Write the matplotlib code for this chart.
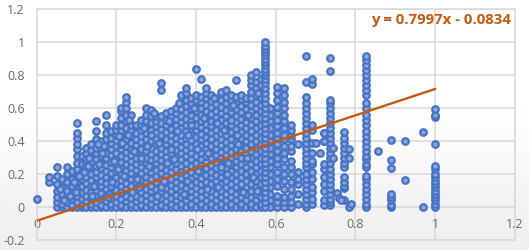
import numpy as np
import matplotlib
matplotlib.use("Agg")
import matplotlib.pyplot as plt

plt.rcParams['font.family'] = ['Open Sans', 'DejaVu Sans']

# dense part, one list of y per x position
dense_x = [0.05, 0.0625, 0.075, 0.0875, 0.10, 0.1125, 0.125, 0.1375, 0.15, 0.1625,
           0.175, 0.1875, 0.20, 0.2125, 0.225, 0.2375, 0.25, 0.2625, 0.275, 0.2875,
           0.30, 0.3125, 0.325, 0.3375, 0.35, 0.3625, 0.375, 0.3875, 0.40, 0.4125,
           0.425, 0.4375, 0.45, 0.4625, 0.475, 0.4875, 0.50, 0.5125, 0.525, 0.5375,
           0.55, 0.5625]
dense_y = [
    [0, 0.03, 0.06, 0.10, 0.14, 0.19, 0.24],
    [0, 0.02, 0.05, 0.08, 0.12, 0.17],
    [0, 0.03, 0.065, 0.10, 0.15, 0.20, 0.24],
    [0, 0.015, 0.05, 0.085, 0.13, 0.17, 0.22],
    [0, 0.03, 0.07, 0.11, 0.15, 0.19, 0.23, 0.27, 0.31, 0.35, 0.38, 0.42, 0.45, 0.51],
    [0, 0.015, 0.05, 0.09, 0.125, 0.17, 0.21, 0.26, 0.31],
    [0, 0.035, 0.07, 0.105, 0.145, 0.18, 0.22, 0.255, 0.29, 0.33, 0.36],
    [0, 0.02, 0.055, 0.09, 0.13, 0.165, 0.20, 0.24, 0.275, 0.31, 0.345, 0.38],
    [0, 0.03, 0.07, 0.105, 0.14, 0.18, 0.215, 0.25, 0.29, 0.325, 0.36, 0.41, 0.46, 0.52],
    [0, 0.015, 0.05, 0.085, 0.125, 0.16, 0.195, 0.235, 0.27, 0.31, 0.345, 0.40],
    [0, 0.035, 0.07, 0.11, 0.145, 0.18, 0.22, 0.255, 0.295, 0.33, 0.37, 0.41, 0.45, 0.50, 0.56],
    [0, 0.02, 0.055, 0.09, 0.13, 0.165, 0.205, 0.24, 0.275, 0.315, 0.35, 0.39, 0.42, 0.46],
    [0, 0.03, 0.07, 0.105, 0.145, 0.18, 0.22, 0.26, 0.295, 0.33, 0.37, 0.405, 0.44, 0.47, 0.50],
    [0, 0.015, 0.05, 0.09, 0.125, 0.165, 0.20, 0.24, 0.275, 0.31, 0.35, 0.385, 0.42, 0.46, 0.50, 0.54, 0.58, 0.60],
    [0, 0.035, 0.07, 0.11, 0.145, 0.185, 0.22, 0.26, 0.295, 0.335, 0.37, 0.41, 0.445, 0.48, 0.52, 0.56, 0.60, 0.64, 0.67],
    [0, 0.02, 0.055, 0.09, 0.13, 0.17, 0.205, 0.24, 0.28, 0.315, 0.355, 0.39, 0.43, 0.465, 0.50, 0.56],
    [0, 0.035, 0.07, 0.11, 0.15, 0.185, 0.225, 0.26, 0.30, 0.335, 0.375, 0.41, 0.45, 0.50],
    [0, 0.015, 0.05, 0.09, 0.13, 0.165, 0.205, 0.24, 0.28, 0.32, 0.355, 0.395, 0.43, 0.47, 0.50, 0.53],
    [0, 0.035, 0.075, 0.11, 0.15, 0.185, 0.225, 0.265, 0.30, 0.34, 0.375, 0.415, 0.45, 0.49, 0.52, 0.56, 0.60],
    [0, 0.02, 0.055, 0.095, 0.13, 0.17, 0.21, 0.245, 0.285, 0.32, 0.36, 0.40, 0.435, 0.47, 0.51, 0.55, 0.59],
    [0, 0.035, 0.075, 0.11, 0.15, 0.19, 0.225, 0.265, 0.30, 0.34, 0.38, 0.415, 0.455, 0.49, 0.52, 0.55],
    [0, 0.015, 0.055, 0.095, 0.13, 0.17, 0.205, 0.245, 0.285, 0.32, 0.36, 0.395, 0.435, 0.475, 0.51, 0.55, 0.71, 0.75],
    [0, 0.035, 0.075, 0.115, 0.15, 0.19, 0.225, 0.265, 0.305, 0.34, 0.38, 0.415, 0.455, 0.495, 0.53, 0.57],
    [0, 0.02, 0.055, 0.095, 0.135, 0.17, 0.21, 0.25, 0.285, 0.325, 0.36, 0.40, 0.44, 0.475, 0.515, 0.55, 0.58],
    [0, 0.04, 0.075, 0.115, 0.155, 0.19, 0.23, 0.265, 0.305, 0.345, 0.38, 0.42, 0.46, 0.495, 0.535, 0.57, 0.60],
    [0, 0.02, 0.06, 0.095, 0.135, 0.175, 0.21, 0.25, 0.29, 0.325, 0.365, 0.405, 0.44, 0.48, 0.515, 0.555, 0.595, 0.64, 0.68],
    [0, 0.04, 0.075, 0.115, 0.155, 0.195, 0.23, 0.27, 0.31, 0.345, 0.385, 0.42, 0.46, 0.50, 0.535, 0.575, 0.615, 0.65, 0.69, 0.72],
    [0, 0.02, 0.06, 0.10, 0.135, 0.175, 0.215, 0.25, 0.29, 0.33, 0.365, 0.405, 0.445, 0.48, 0.52, 0.56, 0.595, 0.63, 0.66],
    [0, 0.04, 0.08, 0.115, 0.155, 0.195, 0.235, 0.27, 0.31, 0.35, 0.385, 0.425, 0.465, 0.50, 0.54, 0.58, 0.615, 0.65, 0.68, 0.84],
    [0, 0.02, 0.06, 0.10, 0.14, 0.175, 0.215, 0.255, 0.29, 0.33, 0.37, 0.41, 0.445, 0.485, 0.525, 0.56, 0.60, 0.64, 0.67, 0.78],
    [0, 0.04, 0.08, 0.12, 0.155, 0.195, 0.235, 0.275, 0.31, 0.35, 0.39, 0.425, 0.465, 0.505, 0.545, 0.58, 0.62, 0.66, 0.69, 0.72],
    [0, 0.02, 0.06, 0.10, 0.14, 0.18, 0.215, 0.255, 0.295, 0.335, 0.37, 0.41, 0.45, 0.49, 0.525, 0.565, 0.605, 0.645, 0.68],
    [0, 0.04, 0.08, 0.12, 0.16, 0.195, 0.235, 0.275, 0.315, 0.35, 0.39, 0.43, 0.47, 0.51, 0.545, 0.585, 0.625, 0.66],
    [0, 0.02, 0.06, 0.10, 0.14, 0.18, 0.22, 0.255, 0.295, 0.335, 0.375, 0.415, 0.45, 0.49, 0.53, 0.57, 0.61, 0.65, 0.70],
    [0, 0.04, 0.08, 0.12, 0.16, 0.20, 0.235, 0.275, 0.315, 0.355, 0.395, 0.435, 0.47, 0.51, 0.55, 0.59, 0.63, 0.67, 0.71],
    [0, 0.02, 0.06, 0.10, 0.14, 0.18, 0.22, 0.26, 0.30, 0.335, 0.375, 0.415, 0.455, 0.495, 0.535, 0.575, 0.61, 0.65, 0.68],
    [0, 0.04, 0.08, 0.12, 0.16, 0.20, 0.24, 0.28, 0.315, 0.355, 0.395, 0.435, 0.475, 0.515, 0.555, 0.595, 0.635, 0.67, 0.77],
    [0, 0.02, 0.06, 0.10, 0.14, 0.18, 0.22, 0.26, 0.30, 0.34, 0.375, 0.415, 0.455, 0.495, 0.535, 0.575, 0.615, 0.655, 0.68],
    [0, 0.04, 0.08, 0.12, 0.16, 0.20, 0.24, 0.28, 0.32, 0.36, 0.40, 0.44, 0.48, 0.515, 0.555, 0.595, 0.635, 0.66],
    [0, 0.02, 0.06, 0.10, 0.14, 0.18, 0.22, 0.26, 0.30, 0.34, 0.38, 0.42, 0.46, 0.50, 0.54, 0.58, 0.62, 0.66, 0.70, 0.74, 0.77, 0.80],
    [0, 0.04, 0.08, 0.12, 0.16, 0.20, 0.24, 0.28, 0.32, 0.36, 0.40, 0.44, 0.48, 0.52, 0.56, 0.60, 0.64, 0.68, 0.72, 0.76, 0.82],
    [0, 0.02, 0.06, 0.10, 0.14, 0.18, 0.22, 0.26, 0.30, 0.34, 0.38, 0.42, 0.46, 0.50, 0.54, 0.58, 0.62, 0.66, 0.70, 0.74, 0.78],
]

# the tall column near 0.57
tall_x = 0.572
tall_y = [0, 0.03, 0.06, 0.09, 0.12, 0.15, 0.18, 0.21, 0.24, 0.27, 0.30, 0.33, 0.36, 0.39, 0.42,
          0.45, 0.48, 0.51, 0.54, 0.57, 0.60, 0.63, 0.66, 0.69, 0.72, 0.75, 0.78, 0.80, 0.82,
          0.84, 0.86, 0.88, 0.90, 0.92, 0.94, 0.96, 0.98, 1.0]

# sparser columns on the right
right_x = [0.585, 0.603, 0.62, 0.639, 0.655, 0.675, 0.692, 0.72, 0.736, 0.772, 0.826, 0.889, 1.0]
right_y = [
    [0, 0.04, 0.08, 0.12, 0.16, 0.20, 0.24, 0.28, 0.32, 0.36, 0.40, 0.44, 0.48, 0.52, 0.56, 0.60],
    [0, 0.03, 0.07, 0.13, 0.17, 0.21, 0.26, 0.30, 0.34, 0.38, 0.42, 0.45, 0.49, 0.53, 0.57, 0.61, 0.65, 0.69, 0.73],
    [0, 0.03, 0.06, 0.11, 0.16, 0.20, 0.24, 0.29, 0.33, 0.37, 0.41, 0.44, 0.48, 0.52, 0.56, 0.60, 0.64, 0.68, 0.72],
    [0, 0.03, 0.07, 0.11, 0.15, 0.20, 0.24, 0.28, 0.34, 0.37, 0.41, 0.44, 0.47, 0.50],
    [0.02, 0.08, 0.14, 0.17, 0.21, 0.38],
    [0, 0.02, 0.05, 0.08, 0.11, 0.14, 0.17, 0.20, 0.24, 0.27, 0.30, 0.33, 0.36, 0.39, 0.42, 0.45,
     0.48, 0.51, 0.54, 0.57, 0.60, 0.63, 0.67, 0.76, 0.915],
    [0.02, 0.05, 0.09, 0.12, 0.17, 0.21, 0.26, 0.28, 0.33, 0.39, 0.47, 0.50, 0.745, 0.775],
    [0.01, 0.04, 0.10, 0.14, 0.18, 0.23, 0.26, 0.40, 0.45],
    [0.01, 0.03, 0.05, 0.08, 0.11, 0.14, 0.17, 0.20, 0.23, 0.27, 0.30, 0.33, 0.36, 0.39, 0.42,
     0.45, 0.48, 0.51, 0.54, 0.57, 0.60, 0.63, 0.65, 0.825, 0.905],
    [0.04, 0.115, 0.13, 0.15, 0.18, 0.245, 0.27, 0.30, 0.33, 0.36, 0.39, 0.42, 0.455],
    [0, 0.02, 0.05, 0.08, 0.11, 0.14, 0.17, 0.19, 0.24, 0.26, 0.29, 0.31, 0.34, 0.37, 0.40, 0.43,
     0.46, 0.50, 0.53, 0.56, 0.60, 0.63, 0.68, 0.71, 0.74, 0.77, 0.80, 0.83, 0.86, 0.89, 0.915],
    [0, 0.015, 0.04, 0.06, 0.08, 0.235, 0.285, 0.405],
    [0, 0.02, 0.04, 0.06, 0.08, 0.10, 0.12, 0.14, 0.16, 0.18, 0.20, 0.23, 0.25, 0.38, 0.545, 0.56, 0.595],
]

# single points
single_x = [0.0, 0.03, 0.03, 0.70, 0.71, 0.72, 0.72, 0.745, 0.745, 0.755, 0.76, 0.765, 0.785, 0.785,
            0.785, 0.79, 0.858, 0.925, 0.925, 0.97, 0.97]
single_y = [0.05, 0.15, 0.18, 0.39, 0.33, 0.45, 0.40, 0.36, 0.30, 0.085, 0.055, 0.04, 0.35, 0.30,
            0.0, 0.02, 0.34, 0.40, 0.165, 0.457, 0.0]

# loose points lying between the columns of the dense part
loose_x = [0.058, 0.083, 0.094, 0.118, 0.131, 0.144, 0.157, 0.169, 0.181, 0.193, 0.207, 0.219, 0.232,
           0.244, 0.256, 0.269, 0.281, 0.294, 0.306, 0.319, 0.331, 0.344, 0.356, 0.369, 0.381, 0.394,
           0.406, 0.419, 0.431, 0.444, 0.456, 0.469, 0.481, 0.494, 0.506, 0.519, 0.531, 0.544, 0.556,
           0.068, 0.107, 0.138, 0.163, 0.188, 0.213, 0.238, 0.263, 0.288, 0.313, 0.338, 0.363, 0.388,
           0.413, 0.438, 0.463, 0.488, 0.513, 0.538, 0.098, 0.128, 0.153, 0.178, 0.203, 0.228, 0.253,
           0.278, 0.303, 0.328, 0.353, 0.378, 0.403, 0.428, 0.453, 0.478, 0.503, 0.528, 0.553]
loose_y = [0.11, 0.07, 0.15, 0.21, 0.30, 0.13, 0.26, 0.37, 0.08, 0.28, 0.43, 0.19, 0.53,
           0.34, 0.12, 0.48, 0.25, 0.57, 0.39, 0.16, 0.52, 0.29, 0.63, 0.08, 0.44, 0.60,
           0.22, 0.54, 0.33, 0.66, 0.12, 0.47, 0.27, 0.62, 0.38, 0.09, 0.56, 0.18, 0.69,
           0.04, 0.19, 0.07, 0.33, 0.15, 0.39, 0.09, 0.30, 0.44, 0.12, 0.35, 0.21, 0.50,
           0.06, 0.41, 0.24, 0.53, 0.14, 0.46, 0.09, 0.25, 0.38, 0.06, 0.23, 0.44, 0.17,
           0.37, 0.07, 0.27, 0.46, 0.16, 0.35, 0.11, 0.51, 0.20, 0.44, 0.30, 0.10]

trend_x = [0, 1]
trend_y = [-0.0834, 0.7163]
equation = "y = 0.7997x - 0.0834"
x_ticks = [0, 0.2, 0.4, 0.6, 0.8, 1, 1.2]
y_ticks = [-0.2, 0, 0.2, 0.4, 0.6, 0.8, 1, 1.2]
tick_labels_x = ["0", "0.2", "0.4", "0.6", "0.8", "1", "1.2"]
tick_labels_y = ["-0.2", "0", "0.2", "0.4", "0.6", "0.8", "1", "1.2"]

xs = []
ys = []
for cols_x, cols_y in [(dense_x, dense_y), (right_x, right_y), ([tall_x], [tall_y])]:
    for x, col in zip(cols_x, cols_y):
        xs += [x] * len(col)
        ys += col
xs += single_x + loose_x
ys += single_y + loose_y

W, H = 529, 250
fig = plt.figure(figsize=(W / 100, H / 100), dpi=100, facecolor='white')

# faint grey shading towards the bottom of the picture
bg = fig.add_axes([0, 0, 1, 1], zorder=0)
bg.imshow([[1.0], [1.0], [1.0], [0.995], [0.985], [0.97], [0.95], [0.94]], cmap='gray', vmin=0, vmax=1,
          aspect='auto', interpolation='bilinear')
bg.axis('off')

ax = fig.add_axes([36.7 / W, 1 - 240 / H, (514.7 - 36.7) / W, (240 - 9.3) / H], zorder=1)
ax.patch.set_alpha(0)
ax.set_xlim(0, 1.2)
ax.set_ylim(-0.2, 1.2)
ax.set_xticks(x_ticks)
ax.set_xticklabels(tick_labels_x)
ax.set_yticks(y_ticks)
ax.set_yticklabels(tick_labels_y)
ax.grid(True, color='#d9d9d9', linewidth=1.1)
ax.set_axisbelow(True)
for name in ax.spines:
    ax.spines[name].set_color('#d9d9d9')
    ax.spines[name].set_linewidth(1.1)
ax.tick_params(length=0, labelsize=9, labelcolor='#6a6a6a')
ax.tick_params(axis='x', pad=0)
ax.tick_params(axis='y', pad=8.5)
# x labels sit inside the plot, just under the zero line
for lab in ax.get_xticklabels():
    lab.set_y(0.069)
    lab.set_va('center')

ax.scatter(xs, ys, s=22, facecolor='#8fa4d8', edgecolor='#4472c4', linewidth=1.6, clip_on=False, zorder=3)
ax.plot(trend_x, trend_y, color='#c55a11', linewidth=1.7, zorder=4)
ax.text(1.19, 1.135, equation, color='#c55a11', fontsize=10.8, fontweight='bold',
        ha='right', va='center', zorder=5)

fig.savefig('out.png', dpi=100)
